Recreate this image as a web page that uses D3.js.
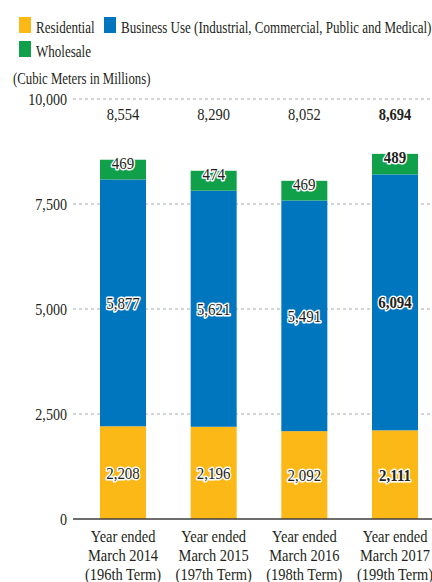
<!DOCTYPE html>
<html>
<head>
<meta charset="utf-8">
<script src="https://cdn.jsdelivr.net/npm/d3@7"></script>
<style>
  body { margin: 0; background: #fff; }
</style>
</head>
<body>
<div id="chart"></div>
<script>
const categories = ["2014", "2015", "2016", "2017"]
const catLines = [
  ["Year ended", "March 2014", "(196th Term)"],
  ["Year ended", "March 2015", "(197th Term)"],
  ["Year ended", "March 2016", "(198th Term)"],
  ["Year ended", "March 2017", "(199th Term)"]
]
const residential = [2208, 2196, 2092, 2111]
const business = [5877, 5621, 5491, 6094]
const wholesale = [469, 474, 469, 489]
const totals = [8554, 8290, 8052, 8694]
const yTicks = [0, 2500, 5000, 7500, 10000]
const series = ["Residential", "Business Use (Industrial, Commercial, Public and Medical)", "Wholesale"]
const colors = ["#fbb817", "#0076be", "#11a04a"]

const W = 432, H = 582
const svg = d3.select("#chart").append("svg")
  .attr("width", W)
  .attr("height", H)
  .attr("font-family", "'Liberation Serif', 'DejaVu Serif', serif")

const y = d3.scaleLinear().domain([0, 10000]).range([519, 99])
const x = d3.scalePoint().domain(categories).range([123, 395])
const barW = 46
const fmt = d3.format(",")

// condensed serif look: squeeze text horizontally
function label(g, tx, ty, str, opts) {
  opts = opts || {}
  const sx = opts.sx || 0.85
  const t = g.append("text")
    .attr("transform", `translate(${tx},${ty}) scale(${sx},1)`)
    .attr("font-family", "'Liberation Serif', 'DejaVu Serif', serif")
    .attr("font-size", opts.size || 16)
    .attr("fill", "#231f20")
    .attr("text-anchor", opts.anchor || "start")
    .text(str)
  if (opts.bold) t.attr("font-weight", "bold")
  if (opts.halo) t.attr("stroke", "#fff").attr("stroke-width", 3)
    .attr("stroke-linejoin", "round").attr("paint-order", "stroke")
  return t
}

// legend
const legend = svg.append("g")
const legendPos = [[19, 17], [104, 17], [19, 41]]
series.forEach(function(s, i) {
  legend.append("rect")
    .attr("x", legendPos[i][0]).attr("y", legendPos[i][1])
    .attr("width", 12).attr("height", 16)
    .attr("fill", colors[i])
  label(legend, legendPos[i][0] + 17, legendPos[i][1] + 16, s, {size: 16.5, sx: 0.79})
})

label(svg, 13, 84, "(Cubic Meters in Millions)", {size: 16, sx: 0.8})

// grid
const grid = svg.append("g")
yTicks.forEach(function(t) {
  if (t > 0) {
    grid.append("line")
      .attr("x1", 73).attr("x2", W)
      .attr("y1", y(t)).attr("y2", y(t))
      .attr("stroke", "#a7a9ac")
      .attr("stroke-width", 1)
      .attr("stroke-dasharray", "3,3")
  }
  label(grid, 67, y(t) + 6, fmt(t), {size: 16, sx: 0.88, anchor: "end"})
})

// stacked bars
const stackData = categories.map(function(c, i) {
  return {cat: c, r: residential[i], b: business[i], w: wholesale[i]}
})
const stack = d3.stack().keys(["r", "b", "w"])(stackData)

const bars = svg.append("g")
stack.forEach(function(layer, li) {
  bars.selectAll(null)
    .data(layer)
    .enter()
    .append("rect")
    .attr("x", d => x(d.data.cat) - barW / 2)
    .attr("width", barW)
    .attr("y", d => y(d[1]))
    .attr("height", d => y(d[0]) - y(d[1]))
    .attr("fill", colors[li])
})

// axis line
svg.append("line")
  .attr("x1", 73).attr("x2", W)
  .attr("y1", y(0)).attr("y2", y(0))
  .attr("stroke", "#3c3c3c")
  .attr("stroke-width", 1.5)

// value labels
const vals = svg.append("g")
stack.forEach(function(layer, li) {
  layer.forEach(function(d, i) {
    const last = i === categories.length - 1
    const v = d[1] - d[0]
    let ty
    if (li === 2) ty = y(d[1]) + 9
    else ty = (y(d[0]) + y(d[1])) / 2 + 6
    label(vals, x(d.data.cat), ty, fmt(v), {size: 17, sx: 0.88, anchor: "middle", halo: true, bold: last})
  })
})

// totals
categories.forEach(function(c, i) {
  label(svg, x(c), 120, fmt(totals[i]), {size: 16.5, sx: 0.88, anchor: "middle", bold: i === categories.length - 1})
})

// category labels
catLines.forEach(function(lines, i) {
  lines.forEach(function(l, j) {
    label(svg, x(categories[i]), 542 + j * 19, l, {size: 17, sx: 0.85, anchor: "middle"})
  })
})
</script>
</body>
</html>
